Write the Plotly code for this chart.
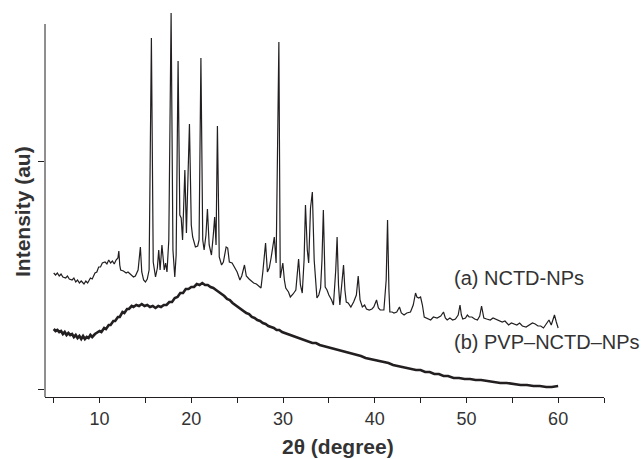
import plotly.graph_objects as go

# Curve (a) NCTD-NPs : 2theta (deg) and intensity (a.u.)
a_x = [5.0, 5.2, 5.4, 5.6, 5.8, 6.0, 6.3, 6.5, 6.7, 7.0, 7.2, 7.4, 7.6, 7.8, 8.0, 8.3, 8.5, 8.7,
       9.0, 9.2, 9.5, 9.7, 9.9, 10.1, 10.3, 10.6, 10.8, 11.0, 11.2, 11.4, 11.6, 11.8, 12.0, 12.1,
       12.2, 12.3, 12.6, 12.9, 13.1, 13.4, 13.7, 13.9, 14.2, 14.45, 14.6, 14.8, 15.0, 15.2, 15.4,
       15.65, 15.85, 16.1, 16.3, 16.45, 16.6, 16.8, 16.95, 17.05, 17.2, 17.35, 17.55, 17.8, 18.0,
       18.2, 18.35, 18.56, 18.75, 18.9, 19.05, 19.3, 19.47, 19.8, 20.0, 20.15, 20.45, 20.7, 20.85,
       21.05, 21.25, 21.4, 21.6, 21.76, 21.95, 22.2, 22.4, 22.55, 22.7, 22.85, 23.05, 23.3, 23.5,
       23.8, 23.97, 24.15, 24.45, 24.8, 25.0, 25.3, 25.5, 25.8, 26.0, 26.3, 26.6, 26.8, 27.1,
       27.4, 27.6, 27.8, 28.1, 28.3, 28.5, 28.7, 28.9, 29.05, 29.25, 29.55, 29.7, 29.98, 30.15,
       30.3, 30.6, 30.8, 31.1, 31.4, 31.7, 31.9, 32.1, 32.3, 32.45, 32.65, 32.8, 33.0, 33.2, 33.4,
       33.7, 33.9, 34.1, 34.25, 34.4, 34.6, 34.8, 35.0, 35.3, 35.5, 35.75, 35.9, 36.05, 36.2,
       36.45, 36.6, 36.75, 36.9, 37.1, 37.4, 37.7, 38.0, 38.2, 38.4, 38.65, 38.9, 39.1, 39.4,
       39.7, 39.9, 40.2, 40.4, 40.6, 41.0, 41.25, 41.4, 41.55, 41.65, 41.9, 42.1, 42.4, 42.7,
       42.9, 43.2, 43.5, 43.9, 44.2, 44.45, 44.6, 44.8, 45.0, 45.2, 45.4, 45.7, 46.1, 46.4, 46.8,
       47.2, 47.5, 47.7, 47.9, 48.2, 48.5, 48.8, 49.1, 49.3, 49.45, 49.6, 49.9, 50.1, 50.3, 50.6,
       50.9, 51.2, 51.45, 51.65, 51.8, 51.9, 52.2, 52.6, 52.9, 53.2, 53.5, 53.9, 54.2, 54.6,
       54.9, 55.2, 55.5, 55.8, 56.1, 56.5, 56.8, 57.2, 57.5, 57.8, 58.1, 58.4, 58.7, 59.0, 59.25,
       59.45, 59.6, 59.8, 60.0]
a_y = [116, 114, 116, 113, 115, 112, 111, 113, 110, 109, 111, 107, 109, 106, 108, 105, 108, 106,
       111, 110, 116, 117, 122, 122, 126, 127, 125, 129, 126, 128, 125, 129, 131, 138,
       124, 119, 118, 116, 117, 114, 112, 113, 119, 142, 117, 109, 107, 110, 119,
       351, 127, 112, 121, 139, 119, 144, 124, 119, 126, 117, 149, 376, 139,
       112, 134, 328, 174, 171, 149, 219, 156, 265, 164, 152, 142, 143, 149,
       331, 149, 139, 154, 180, 144, 134, 154, 172, 144, 263, 132, 124, 127,
       142, 141, 127, 126, 121, 117, 109, 113, 124, 113, 110, 108, 106, 105,
       103, 101, 117, 146, 117, 121, 131, 141, 152, 126, 347, 111, 126, 109,
       101, 97, 92, 95, 99, 130, 104, 96, 129, 184, 139, 126, 181, 197, 129,
       91, 94, 101, 129, 179, 102, 99, 94, 89, 84, 119, 152, 104, 84,
       109, 124, 99, 87, 86, 82, 87, 94, 113, 89, 82, 84, 80, 79,
       80, 82, 89, 81, 79, 79, 109, 169, 99, 77, 77, 76, 77, 82,
       76, 74, 76, 77, 84, 96, 92, 91, 92, 84, 72, 71, 69, 72, 71,
       73, 77, 71, 69, 71, 69, 70, 74, 84, 74, 70, 71, 74, 72, 72,
       70, 69, 73, 83, 74, 71, 70, 69, 71, 70, 69, 67, 68, 64,
       66, 65, 64, 66, 63, 62, 64, 66, 65, 63, 63, 61, 65, 69, 64,
       69, 74, 67, 61]

# Curve (b) PVP-NCTD-NPs
b_x = [5.0, 5.2, 5.4, 5.6, 5.8, 6.0, 6.2, 6.4, 6.6, 6.8, 7.0, 7.2, 7.4, 7.6, 7.8, 8.0, 8.2, 8.4,
       8.6, 8.8, 9.0, 9.2, 9.5, 9.7, 10.0, 10.2, 10.5, 10.7, 11.0, 11.2, 11.5, 11.7, 12.0, 12.2,
       12.5, 12.7, 13.0, 13.2, 13.5, 13.7, 14.0, 14.3, 14.6, 14.9, 15.2, 15.5, 15.8, 16.1, 16.4,
       16.7, 17.0, 17.3, 17.6, 17.9, 18.2, 18.5, 18.8, 19.1, 19.4, 19.7, 20.0, 20.3, 20.6, 20.9,
       21.2, 21.5, 21.8, 22.1, 22.4, 22.7, 23.0, 23.3, 23.6, 23.9, 24.2, 24.5, 24.8, 25.1, 25.4,
       25.7, 26.0, 26.3, 26.6, 26.9, 27.2, 27.5, 27.8, 28.1, 28.4, 28.7, 29.0, 29.3, 29.6, 29.9,
       30.2, 30.5, 30.8, 31.1, 31.4, 31.7, 32.0, 32.4, 32.8, 33.2, 33.6, 34.0, 34.4, 34.8, 35.2,
       35.6, 36.0, 36.5, 37.0, 37.5, 38.0, 38.5, 39.0, 39.5, 40.0, 40.5, 41.0, 41.5, 42.0, 42.5,
       43.0, 43.5, 44.0, 44.5, 45.0, 45.5, 46.0, 46.5, 47.0, 47.5, 48.0, 48.6, 49.2, 49.8, 50.4,
       51.0, 51.6, 52.3, 53.0, 53.7, 54.4, 55.1, 55.9, 56.6, 57.3, 58.0, 58.7, 59.3, 60.0]
b_y = [60, 58, 59, 57, 58, 55, 57, 54, 56, 54, 55, 52, 54, 51, 53, 50, 53, 50,
       52, 51, 54, 52, 55, 56, 58, 57, 61, 60, 64, 64, 68, 68, 72, 72,
       77, 76, 80, 80, 83, 82, 84, 83, 85, 83, 84, 82, 83, 81, 83,
       82, 84, 84, 87, 87, 91, 92, 96, 96, 100, 100, 102, 102, 105, 104,
       106, 104, 104, 102, 101, 99, 97, 95, 93, 90, 89, 86, 84, 82, 80,
       78, 76, 75, 72, 71, 69, 68, 66, 65, 63, 62, 61, 59, 59, 57,
       56, 55, 54, 53, 52, 51, 50, 49, 48, 46, 46, 44, 43, 42, 41,
       40, 39, 38, 37, 35, 34, 33, 31, 30, 29, 28, 27, 26, 24, 23,
       22, 21, 20, 19, 19, 17, 17, 15, 15, 13, 13, 11, 11, 10, 10,
       9, 9, 8, 7, 6, 6, 5, 4, 4, 3, 3, 2, 2, 3]

x_tickvals = [5, 10, 15, 20, 25, 30, 35, 40, 45, 50, 55, 60, 65]
x_ticktext = ["", "10", "", "20", "", "30", "", "40", "", "50", "", "60", ""]
y_tickvals = [0, 228]

line_col = "#231f20"
text_col = "#333333"
font_fam = "Liberation Sans, Arial, sans-serif"

fig = go.Figure()
fig.add_trace(go.Scatter(x=a_x, y=a_y, mode="lines",
                         line=dict(color=line_col, width=1.2), showlegend=False))
fig.add_trace(go.Scatter(x=b_x, y=b_y, mode="lines",
                         line=dict(color=line_col, width=2.6), showlegend=False))

fig.update_layout(
    width=641, height=459,
    margin=dict(l=45, r=37, t=9, b=62),
    paper_bgcolor="white", plot_bgcolor="white",
    font=dict(family=font_fam, color=text_col),
    xaxis=dict(range=[4.05, 65], tickmode="array", tickvals=x_tickvals, ticktext=x_ticktext,
               ticks="outside", ticklen=5, tickcolor=line_col, tickwidth=1, automargin=False,
               showline=True, linecolor=line_col, linewidth=1, showgrid=False, zeroline=False,
               tickfont=dict(size=18, color=text_col, family=font_fam)),
    yaxis=dict(range=[-8, 380], tickmode="array", tickvals=y_tickvals, ticktext=["", ""],
               ticks="outside", ticklen=6, tickcolor=line_col, tickwidth=1, automargin=False,
               showline=False, showgrid=False, zeroline=False),
    shapes=[dict(type="line", xref="paper", yref="y", x0=0, x1=0, y0=-8, y1=365,
                 line=dict(color=line_col, width=1))],
    annotations=[
        dict(text="<b>2θ (degree)</b>", xref="paper", yref="paper", x=(337.5 - 45) / 559,
             y=-(446 - 397) / 388, xanchor="center", yanchor="middle", showarrow=False,
             font=dict(size=21, color=text_col, family=font_fam)),
        dict(text="<b>Intensity (au)</b>", xref="paper", yref="paper", x=-(45 - 23) / 559,
             y=(397 - 212) / 388, xanchor="center", yanchor="middle", textangle=-90,
             showarrow=False, font=dict(size=21, color=text_col, family=font_fam)),
        dict(text="(a) NCTD-NPs", xref="paper", yref="paper", x=(452 - 45) / 559,
             y=(397 - 278) / 388, xanchor="left", yanchor="middle", showarrow=False,
             font=dict(size=20, color=text_col, family=font_fam)),
        dict(text="(b) PVP–NCTD–NPs", xref="paper", yref="paper", x=(452 - 45) / 559,
             y=(397 - 342) / 388, xanchor="left", yanchor="middle", showarrow=False,
             font=dict(size=20, color=text_col, family=font_fam)),
    ],
)

fig.write_html("out.html", config={"displayModeBar": False},
               post_script="document.body.style.margin='0px';")
